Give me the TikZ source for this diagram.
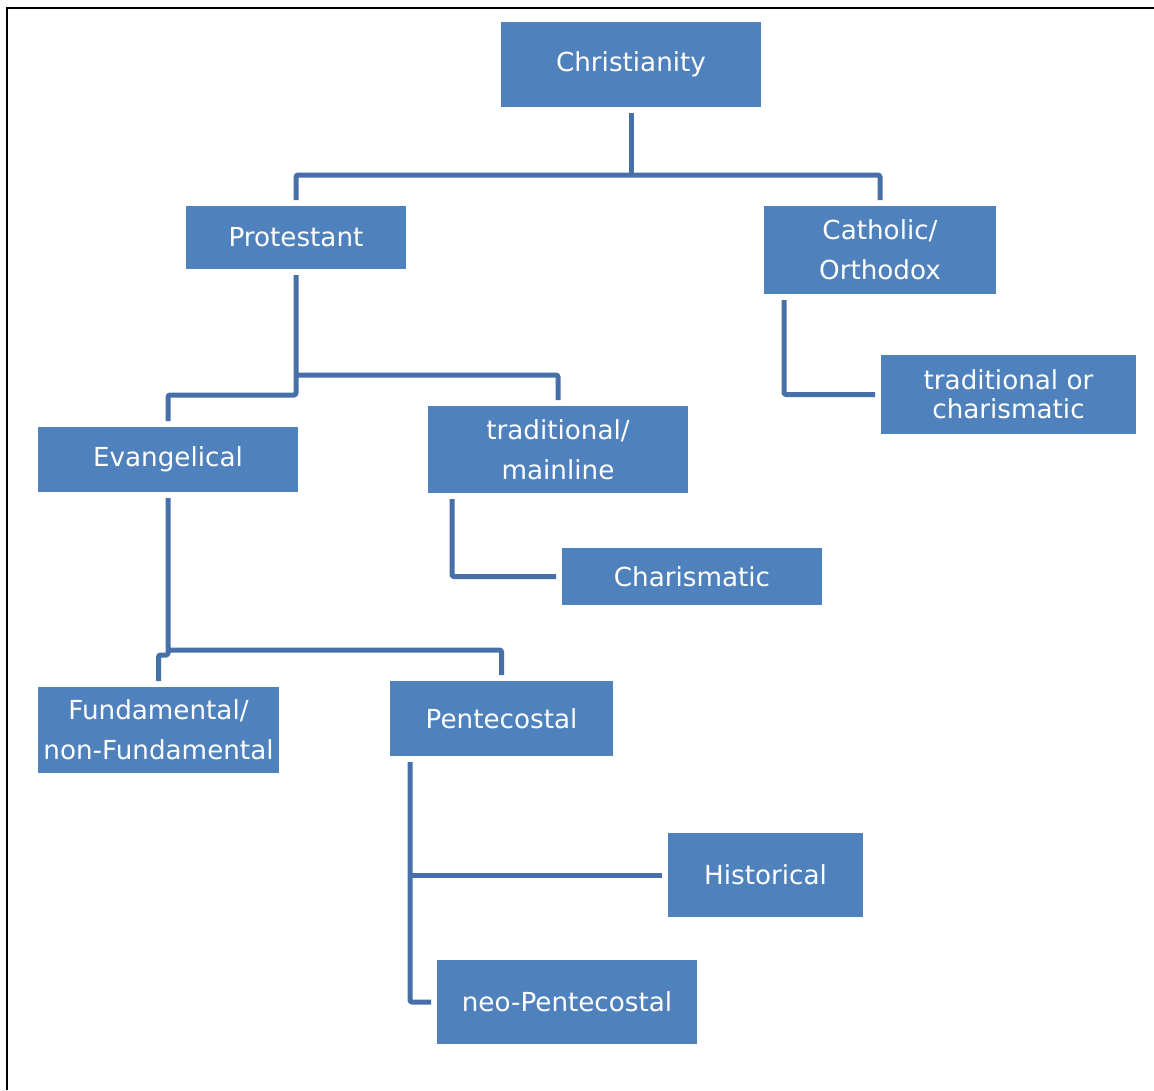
\documentclass[tikz,border=0pt]{standalone}
\usepackage{fontspec}
\setmainfont{DejaVu Sans}
\definecolor{boxblue}{HTML}{4F81BD}
\definecolor{lineblue}{HTML}{4770A8}
\begin{document}
\begin{tikzpicture}[x=1pt,y=-1pt,
  box/.style={fill=boxblue, text=white, inner sep=0pt, outer sep=6pt, align=center,
    font=\fontsize{26.2}{40}\selectfont},
  conn/.style={draw=lineblue, line width=5pt, line join=round, rounded corners=1.5pt}]
\useasboundingbox (0,0) rectangle (1154,1090);
\fill[white] (0,0) rectangle (1154,1090);
\draw[line width=2pt] (6.5,1090) -- (6.5,7.5) -- (1154,7.5);

\node[box, minimum width=260pt, minimum height=85pt] (chr) at (631,64.5) {Christianity};
\node[box, minimum width=220pt, minimum height=63pt] (prot) at (296,237.5) {Protestant};
\node[box, minimum width=232pt, minimum height=88pt] (cat) at (880,250) {Catholic/\\Orthodox};
\node[box, minimum width=255pt, minimum height=79pt, font=\fontsize{26.2}{29}\selectfont] (tor) at (1008.5,394.5) {traditional or\\charismatic};
\node[box, minimum width=260pt, minimum height=65pt] (evan) at (168,459.5) {Evangelical};
\node[box, minimum width=260pt, minimum height=87pt] (trad) at (558,449.5) {traditional/\\mainline};
\node[box, minimum width=260pt, minimum height=57pt] (char) at (692,576.5) {Charismatic};
\node[box, minimum width=241pt, minimum height=86pt] (fund) at (158.5,730) {Fundamental/\\non-Fundamental};
\node[box, minimum width=223pt, minimum height=75pt] (pent) at (501.5,718.5) {Pentecostal};
\node[box, minimum width=195pt, minimum height=84pt] (hist) at (765.5,875) {Historical};
\node[box, minimum width=260pt, minimum height=84pt] (neo) at (567,1002) {neo-Pentecostal};

\coordinate (j1) at (631,175);
\coordinate (j2) at (296,375);
\coordinate (j3) at (296,395);
\coordinate (j4) at (168,650);
\coordinate (j5) at (168,655);
\coordinate (cs) at (784,300);
\coordinate (ts) at (452,499);
\coordinate (ps) at (410,762);

\draw[conn] (chr.south) -- (j1);
\draw[conn] (prot.north) -- (prot.north |- j1) -- (cat.north |- j1) -- (cat.north);
\draw[conn] (prot.south) -- (j3) -- (evan.north |- j3) -- (evan.north);
\draw[conn] (j2) -- (trad.north |- j2) -- (trad.north);
\draw[conn] (cs) -- (cs |- tor.west) -- (tor.west);
\draw[conn] (ts) -- (ts |- char.west) -- (char.west);
\draw[conn] (evan.south) -- (j4) -- (pent.north |- j4) -- (pent.north);
\draw[conn] (j4) -- (j5) -- (fund.north |- j5) -- (fund.north);
\draw[conn] (ps) -- (ps |- neo.west) -- (neo.west);
\draw[conn] (ps |- hist.west) -- (hist.west);
\end{tikzpicture}
\end{document}
